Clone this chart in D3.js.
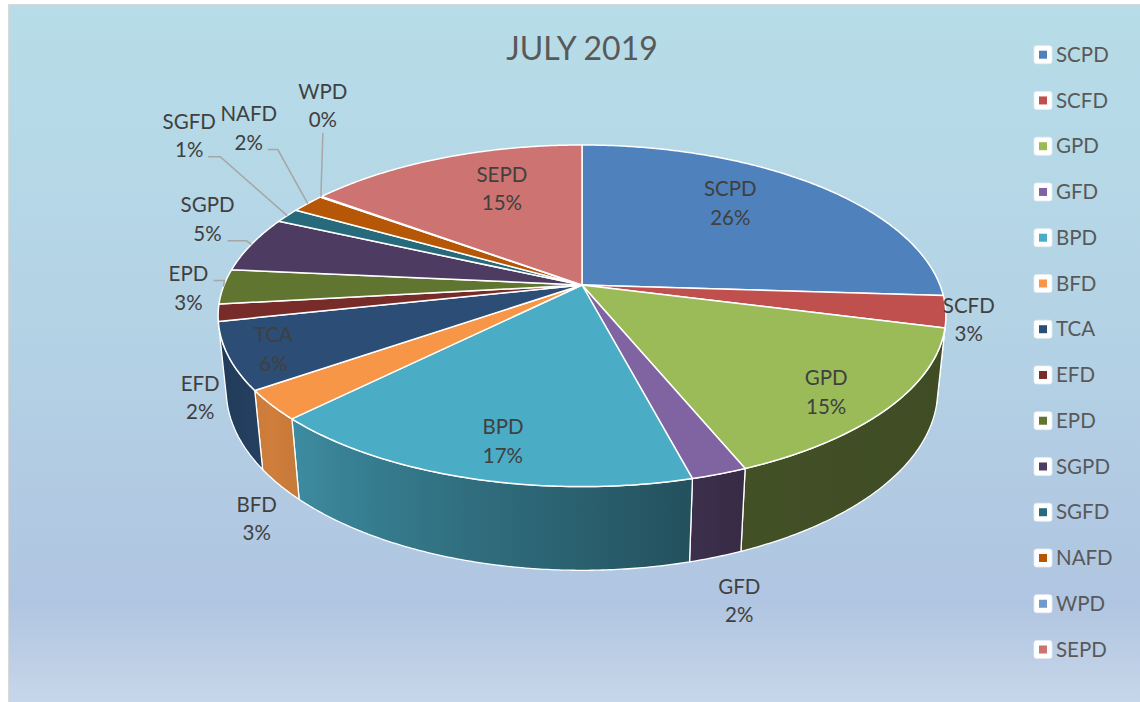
<!DOCTYPE html>
<html>
<head>
<meta charset="utf-8">
<script src="https://cdn.jsdelivr.net/npm/d3@7"></script>
<style>
  body { margin: 0; background: #fff; }
  svg { display: block; font-family: Lato, 'Open Sans', sans-serif; }
</style>
</head>
<body>
<div id="chart"></div>
<script>
// data, clockwise from 12 o'clock, in percent
const categories = ['SCPD', 'SCFD', 'GPD', 'GFD', 'BPD', 'BFD', 'TCA', 'EFD', 'EPD', 'SGPD', 'SGFD', 'NAFD', 'WPD', 'SEPD'];
const shares = [26.0, 3.0, 14.8, 2.1, 16.6, 2.8, 6.3, 1.6, 3.3, 5.3, 1.4, 1.8, 0.1, 14.9];
const sliceColors = ['#4f81bd', '#c0504d', '#9bbb59', '#8064a2', '#4bacc6', '#f79646', '#2c4d75',
  '#772c2a', '#5f7530', '#4d3b62', '#276a7c', '#b65708', '#729aca', '#cd7371'];
const title = 'JULY 2019';

const WIDTH = 1140;
const HEIGHT = 702;

// perspective camera for the tilted pie
const CX = 582;
const CY = 285;
const TILT = (27.5 * Math.PI) / 180;
const DIST = 4.92;
const FOCAL = 1761;
const THICK = 0.236;
const SIN_T = Math.sin(TILT);
const COS_T = Math.cos(TILT);

// label placement: offsets from the rim point at the slice's mid angle
const labelOffsets = {
  SCPD: [-84, 19], SCFD: [23, 8], GPD: [-62, -16], GFD: [20, 127], BPD: [34, -37],
  BFD: [-15, 114], TCA: [45, -7], EFD: [-18, 85], EPD: [-35, 2], SGPD: [-44, -25],
  SGFD: [-98, -80], NAFD: [-59, -75], WPD: [2, -91], SEPD: [59, 31],
};
// leader lines: end point relative to label centre, elbow length
const leaders = {
  EPD: [25, -8, 11], SGPD: [20, 21.5, 19], SGFD: [19, 21, 12], NAFD: [19, 21, 10], WPD: [0, 27, 0],
};
const LABEL_FONT = 20.5;
const LINE_GAP = 28.5;

const project = (theta, r, z) => {
  const x = r * Math.sin(theta);
  const y = r * Math.cos(theta);
  const d = DIST + y * COS_T - z * SIN_T;
  return [CX + (x * FOCAL) / d, CY - ((y * SIN_T + z * COS_T) * FOCAL) / d];
};

const arcPoints = (a0, a1, z) => {
  const n = Math.max(2, Math.ceil(((a1 - a0) * 180) / Math.PI / 0.5));
  return d3.range(n + 1).map((i) => project(a0 + ((a1 - a0) * i) / n, 1, z));
};

// side shading, darker toward the right
const shadeStops = [[100, 0.40], [158, 0.43], [230, 0.84], [260, 0.72]];
const shadeScale = d3.scaleLinear()
  .domain(shadeStops.map((s) => s[0]))
  .range(shadeStops.map((s) => s[1]))
  .clamp(true);
const shade = (color, deg) => {
  const c = d3.rgb(color);
  const f = shadeScale(deg);
  return d3.rgb(c.r * f, c.g * f, c.b * f).formatHex();
};

const colorScale = d3.scaleOrdinal(categories, sliceColors);
const total = d3.sum(shares);
const pct = d3.format('.0%');

const pie = d3.pie().sort(null).startAngle(0).endAngle(2 * Math.PI);
const arcs = pie(shares).map((a, i) => ({ ...a, name: categories[i] }));

const svg = d3.select('#chart').append('svg')
  .attr('width', WIDTH)
  .attr('height', HEIGHT);
const defs = svg.append('defs');

const bg = defs.append('linearGradient')
  .attr('id', 'bg')
  .attr('x1', 0).attr('y1', 0).attr('x2', 0).attr('y2', 1);
[[0, '#b7dde8'], [0.45, '#b4d3e5'], [0.85, '#b0c5e1'], [1, '#c8d7ea']].forEach(([o, c]) =>
  bg.append('stop').attr('offset', o).attr('stop-color', c));

svg.append('rect')
  .attr('x', 8.5).attr('y', 4.5)
  .attr('width', WIDTH).attr('height', HEIGHT)
  .attr('fill', 'url(#bg)')
  .attr('stroke', '#d9d9d9');

const line = d3.line();

// visible part of the cylinder wall
const limit = Math.acos(-1 / (DIST * COS_T));
const visFrom = limit;
const visTo = 2 * Math.PI - limit;

const sides = svg.append('g');
arcs.forEach((a, i) => {
  const s0 = Math.max(a.startAngle, visFrom);
  const s1 = Math.min(a.endAngle, visTo);
  if (s1 <= s0) return;
  const top = arcPoints(s0, s1, 0);
  const bottom = arcPoints(s0, s1, -THICK).reverse();
  const x0 = top[0][0];
  const x1 = top[top.length - 1][0];
  const grad = defs.append('linearGradient')
    .attr('id', `side${i}`)
    .attr('gradientUnits', 'userSpaceOnUse')
    .attr('x1', x0).attr('y1', 0).attr('x2', x1).attr('y2', 0);
  d3.range(9).forEach((k) => {
    const t = s0 + ((s1 - s0) * k) / 8;
    const px = project(t, 1, 0)[0];
    grad.append('stop')
      .attr('offset', x1 === x0 ? 0 : (px - x0) / (x1 - x0))
      .attr('stop-color', shade(colorScale(a.name), (t * 180) / Math.PI));
  });
  sides.append('path')
    .attr('d', line(top.concat(bottom)) + 'Z')
    .attr('fill', `url(#side${i})`)
    .attr('stroke', '#fff')
    .attr('stroke-width', 1.3)
    .attr('stroke-linejoin', 'round');
});

svg.append('g')
  .selectAll('path')
  .data(arcs)
  .join('path')
  .attr('d', (a) => line([[CX, CY], ...arcPoints(a.startAngle, a.endAngle, 0)]) + 'Z')
  .attr('fill', (a) => colorScale(a.name))
  .attr('stroke', '#fff')
  .attr('stroke-width', 1.5)
  .attr('stroke-linejoin', 'round');

// labels
const labels = svg.append('g')
  .attr('font-size', LABEL_FONT)
  .attr('fill', '#404040')
  .attr('text-anchor', 'middle');

arcs.forEach((a) => {
  const mid = (a.startAngle + a.endAngle) / 2;
  const [ax, ay] = project(mid, 1, 0);
  const [dx, dy] = labelOffsets[a.name];
  const lx = ax + dx;
  const ly = ay + dy;
  const ld = leaders[a.name];
  if (ld) {
    const ex = lx + ld[0];
    const ey = ly + ld[1];
    svg.insert('path', 'g:last-of-type')
      .attr('d', line([[ax, ay], [ex + ld[2], ey], [ex, ey]]))
      .attr('fill', 'none')
      .attr('stroke', '#a6a6a6')
      .attr('stroke-width', 1.5);
  }
  const t = labels.append('text').attr('x', lx).attr('y', ly);
  t.append('tspan').attr('x', lx).attr('y', ly - LINE_GAP / 2).attr('dy', '0.35em').text(a.name);
  t.append('tspan').attr('x', lx).attr('y', ly + LINE_GAP / 2).attr('dy', '0.35em').text(pct(a.value / total));
});

// title
svg.append('text')
  .attr('x', CX)
  .attr('y', 49)
  .attr('dy', '0.35em')
  .attr('text-anchor', 'middle')
  .attr('font-size', 32)
  .attr('fill', '#595959')
  .text(title);

// legend
const legendY = d3.scalePoint(categories, [54.7, 649.5]);
const legend = svg.append('g')
  .selectAll('g')
  .data(categories)
  .join('g')
  .attr('transform', (d) => `translate(1043, ${legendY(d)})`);
legend.append('rect')
  .attr('x', -9).attr('y', -9)
  .attr('width', 18).attr('height', 18)
  .attr('rx', 2.5)
  .attr('fill', '#fff')
  .attr('stroke', '#e4eef4')
  .attr('stroke-width', 0.8);
legend.append('rect')
  .attr('x', -4).attr('y', -4)
  .attr('width', 8).attr('height', 8)
  .attr('fill', (d) => colorScale(d));
legend.append('text')
  .attr('x', 13)
  .attr('dy', '0.35em')
  .attr('font-size', LABEL_FONT)
  .attr('fill', '#595959')
  .text((d) => d);
</script>
</body>
</html>
